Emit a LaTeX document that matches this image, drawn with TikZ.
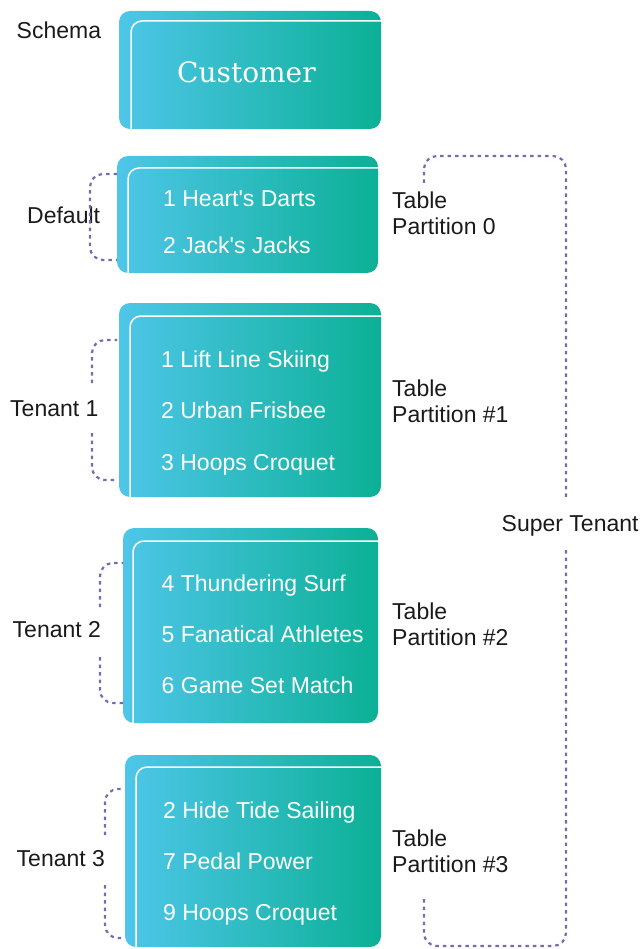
\documentclass[tikz,border=0pt]{standalone}
\usepackage{fontspec}
\setmainfont{Liberation Sans}
\newfontfamily\slabfont{DejaVu Serif}
\definecolor{gradL}{HTML}{4EC6E9}
\definecolor{gradR}{HTML}{0CB096}
\definecolor{dashc}{HTML}{7A68B0}
\definecolor{txt}{HTML}{1A1A1A}
\tikzset{
  lbl/.style={anchor=base west, inner sep=0pt, font=\fontsize{23}{26}\selectfont, text=txt},
  twolbl/.style={anchor=base west, inner sep=0pt, font=\fontsize{23}{26}\selectfont, text=txt, align=left},
  itm/.style={anchor=base west, inner sep=0pt, font=\fontsize{23}{26}\selectfont, text=white},
  brk/.style={draw=dashc, line width=2.2pt, dash pattern=on 3.5pt off 4pt, rounded corners=13pt},
  boxfill/.style={left color=gradL, right color=gradR, rounded corners=11pt},
  inline/.style={draw=white, line width=1.5pt, rounded corners=11pt}
}
\newcommand\gbox[6]{%
  \shade[boxfill] (#1,#2) rectangle (#3,#4);
  \draw[inline] (#5,#4) -- (#5,#6) -- (#3,#6);
}
\begin{document}
\begin{tikzpicture}[x=1pt,y=-1pt]
\useasboundingbox (0,0) rectangle (643,949);
% boxes
\gbox{119}{11}{381}{129}{131}{21}
\gbox{117}{156}{378}{273}{128}{168}
\gbox{119}{303}{381}{497}{130}{316}
\gbox{123}{528}{378}{723}{133}{541}
\gbox{125}{755}{381}{947}{136}{767}
% customer
\node[anchor=base west, inner sep=0pt, text=white, font=\slabfont\fontsize{28}{30}\selectfont] (cust) at (177,83) {Customer};
% items
\node[itm] (d1) at (163,207) {1 Heart\textquotesingle s Darts};
\node[itm] (d2) at (163,254) {2 Jack\textquotesingle s Jacks};
\node[itm] (a1) at (161,367) {1 Lift Line Skiing};
\node[itm] (a2) at (161,418) {2 Urban Frisbee};
\node[itm] (a3) at (161,470) {3 Hoops Croquet};
\node[itm] (b1) at (161.5,591) {4 Thundering Surf};
\node[itm] (b2) at (161.5,642) {5 Fanatical Athletes};
\node[itm] (b3) at (161.5,693) {6 Game Set Match};
\node[itm] (c1) at (163,818) {2 Hide Tide Sailing};
\node[itm] (c2) at (163,869) {7 Pedal Power};
\node[itm] (c3) at (163,920) {9 Hoops Croquet};
% left labels
\node[lbl] (schema) at (16.5,39) {Schema};
\node[lbl] (deflt) at (27,224) {Default};
\node[lbl] (t1) at (10,416) {Tenant 1};
\node[lbl] (t2) at (12.5,637) {Tenant 2};
\node[lbl] (t3) at (16.5,866) {Tenant 3};
% right labels (anchor on second line baseline)
\node[twolbl] (p0) at (392,235) {Table\\Partition 0};
\node[twolbl] (p1) at (392,422) {Table\\Partition \#1};
\node[twolbl] (p2) at (392,645) {Table\\Partition \#2};
\node[twolbl] (p3) at (392,872) {Table\\Partition \#3};
\node[lbl] (st) at (501.5,531) {Super Tenant};
% brackets
\draw[brk] (117,174) -- (90,174) -- (90,260) -- (117,260);
\draw[brk] (92,383) -- (92,340) -- (117,340);
\draw[brk] (92,433) -- (92,480) -- (117,480);
\draw[brk] (100,607) -- (100,563) -- (123,563);
\draw[brk] (100,657) -- (100,703) -- (123,703);
\draw[brk] (105,835) -- (105,789) -- (122,789);
\draw[brk] (105,885) -- (105,938) -- (122,938);
\draw[brk] (424,183) -- (424,156) -- (566,156) -- (566,500);
\draw[brk] (566,550) -- (566,946) -- (424,946) -- (424,896);
\end{tikzpicture}
\end{document}
